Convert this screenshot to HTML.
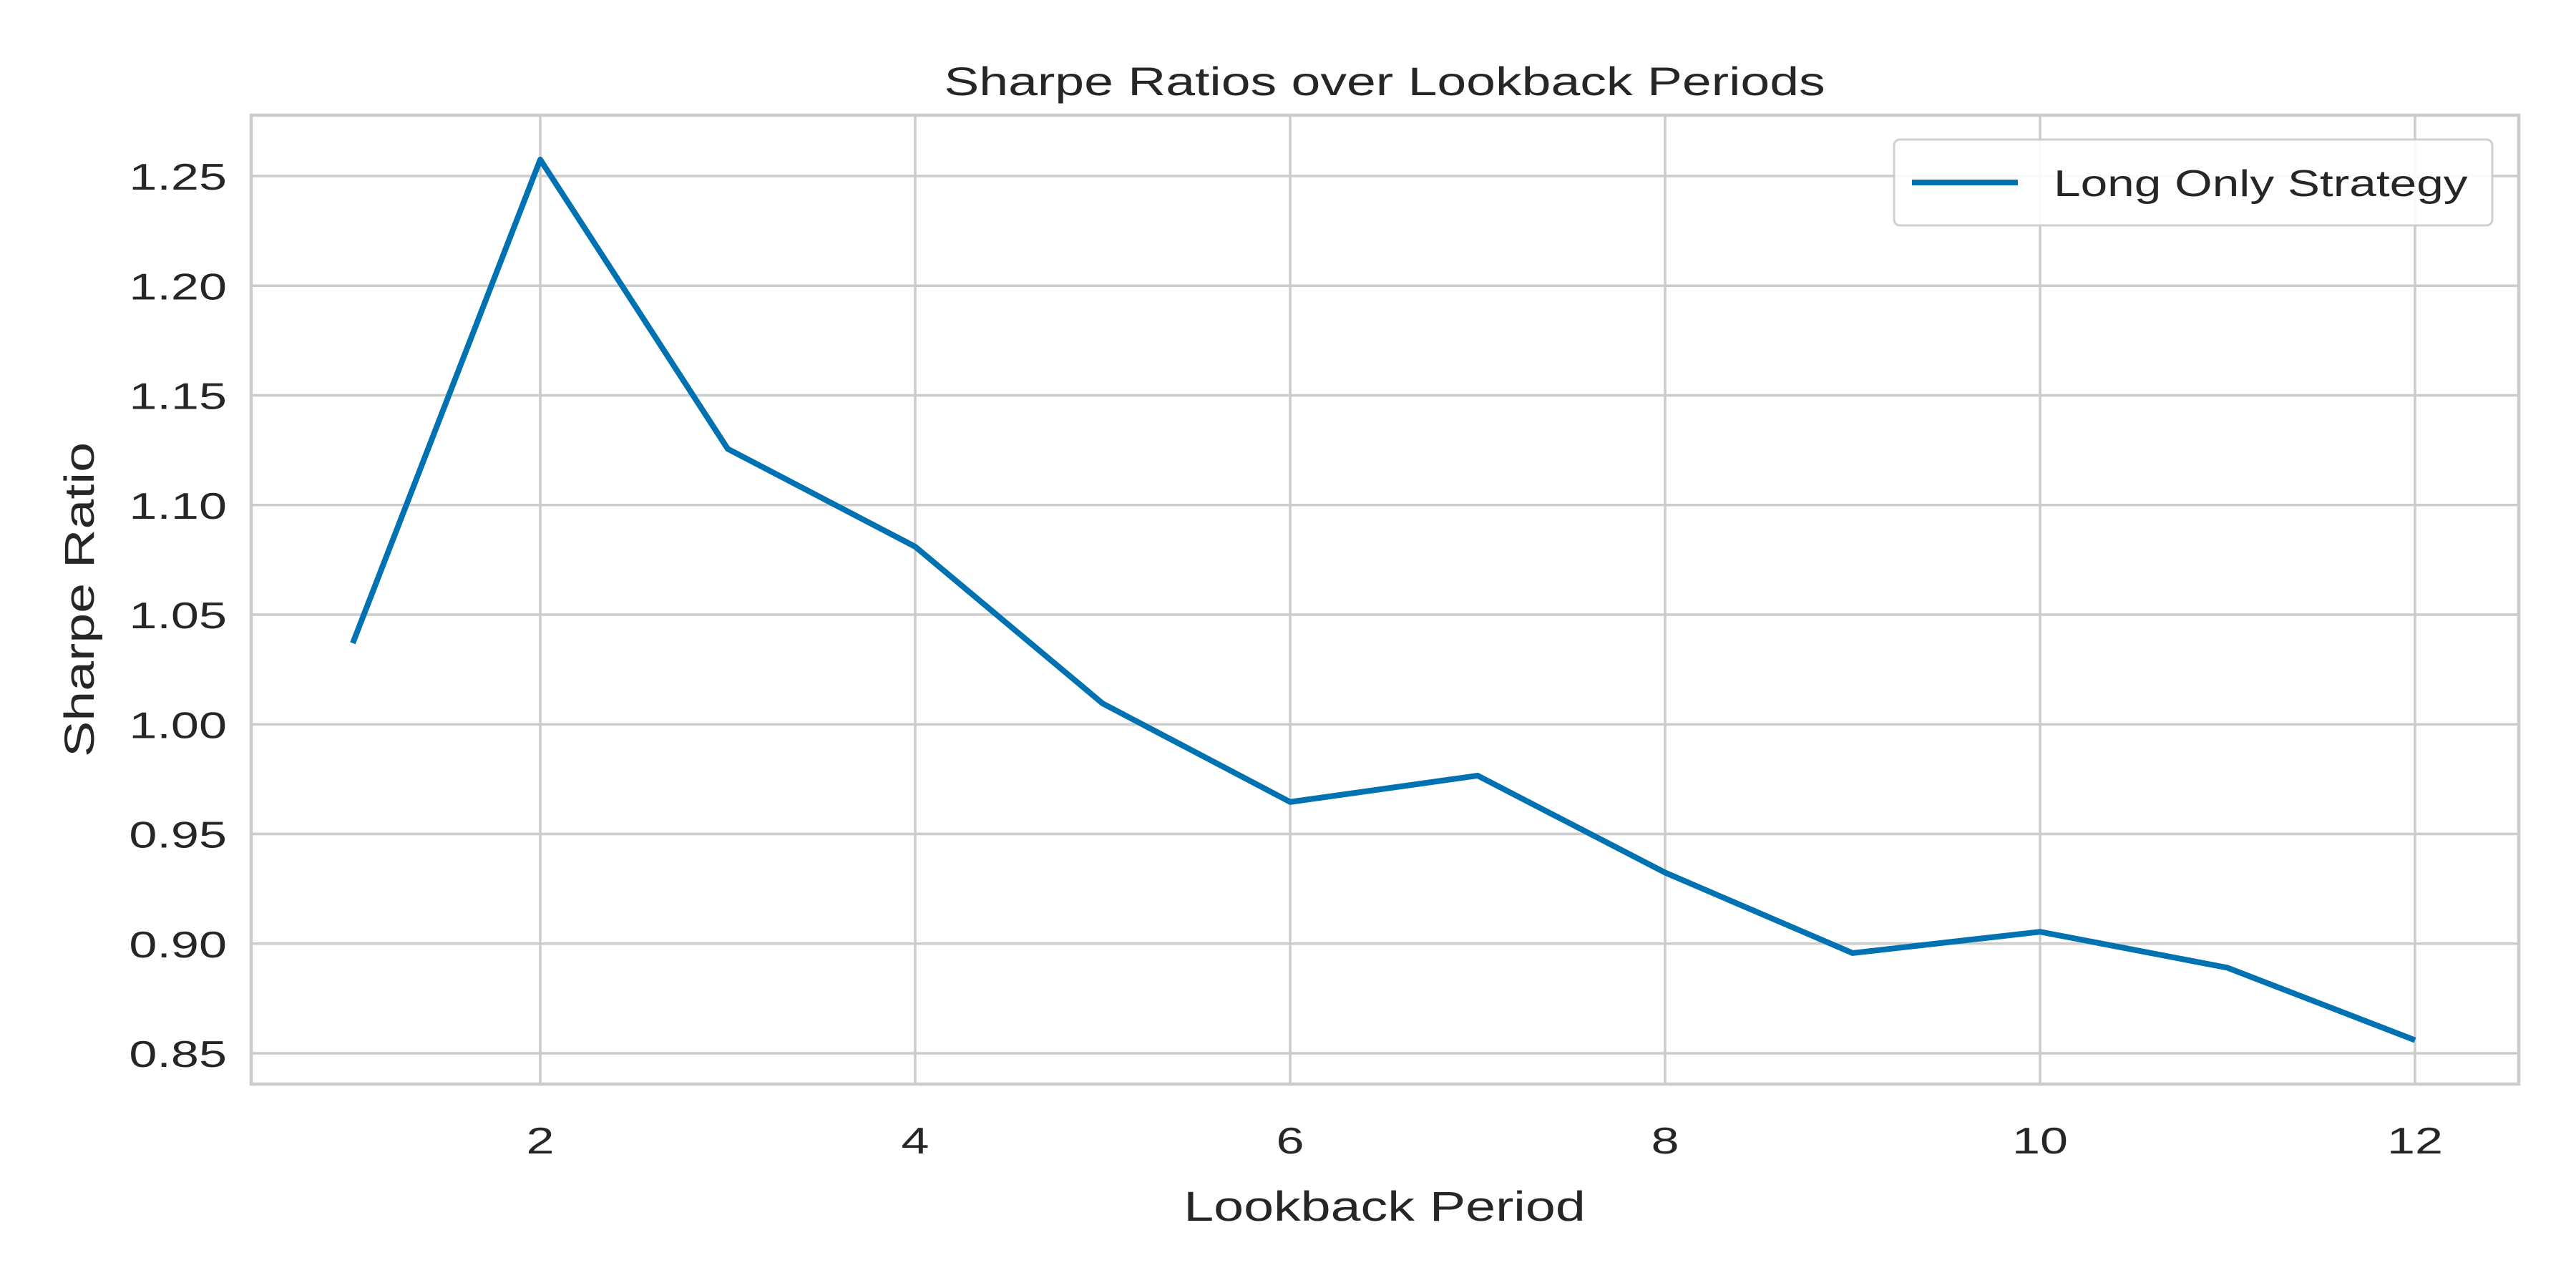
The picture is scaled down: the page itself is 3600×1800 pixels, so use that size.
<!DOCTYPE html>
<html><head><meta charset="utf-8"><style>
html,body{margin:0;padding:0;background:#fff;}
svg{display:block;font-family:"Liberation Sans",sans-serif;}
</style></head><body>
<svg id="chart" width="3600" height="1800" viewBox="0 0 3600 1800" xmlns="http://www.w3.org/2000/svg">
<rect width="3600" height="1800" fill="#fff"/>
<g id="grid"></g>
<g id="ticks"></g>
<rect x="351" y="161" width="3169" height="1354" fill="none" stroke="#cccccc" stroke-width="4.5"/>
<g id="series"></g>
<g transform="translate(1935,133) scale(1.31,1)"><text x="0" y="0" font-size="56" text-anchor="middle" fill="#262626">Sharpe Ratios over Lookback Periods</text></g>
<g transform="translate(1935,1706) scale(1.3,1)"><text x="0" y="0" font-size="58" text-anchor="middle" fill="#262626">Lookback Period</text></g>
<g transform="translate(131,838) rotate(-90) scale(1.3,1)"><text x="0" y="0" font-size="58" text-anchor="middle" fill="#262626">Sharpe Ratio</text></g>
<g>
<rect x="2647" y="195" width="836" height="120" rx="8" fill="#fff" stroke="#cccccc" stroke-width="3" opacity="0.9"/>
<line x1="2672" y1="255" x2="2820" y2="255" stroke="#0072b2" stroke-width="8"/>
<g transform="translate(2870,274) scale(1.3,1)"><text x="0" y="0" font-size="52" fill="#262626">Long Only Strategy</text></g>
</g>
</svg>
<script>
const lookbacks=[1,2,3,4,5,6,7,8,9,10,11,12];
const sharpeValues=[1.037,1.2575,1.1256,1.081,1.0095,0.9646,0.9766,0.9324,0.8957,0.9054,0.889,0.856];
const xTicks=[2,4,6,8,10,12];
const yTicks=[0.85,0.90,0.95,1.00,1.05,1.10,1.15,1.20,1.25];
const NS="http://www.w3.org/2000/svg";
function xs(v){return 755+(v-2)*262;}
function ys(v){return 246+(1.25-v)/0.4*1226;}
const grid=document.getElementById('grid'),ticks=document.getElementById('ticks'),series=document.getElementById('series');
function mk(tag,attrs,parent){const e=document.createElementNS(NS,tag);for(const k in attrs)e.setAttribute(k,attrs[k]);parent.appendChild(e);return e;}
xTicks.forEach(t=>{
 const l=mk('line',{x1:xs(t),x2:xs(t),y1:161,y2:1515,stroke:'#cccccc','stroke-width':3.5},grid);
 
 
 const g=mk('g',{transform:'translate('+xs(t)+',1612) scale(1.35,1)'},ticks);
 const tx=mk('text',{x:0,y:0,'font-size':52,'text-anchor':'middle',fill:'#262626'},g);
 tx.textContent=t;
 
 
});
yTicks.forEach(t=>{
 const l=mk('line',{x1:351,x2:3520,y1:ys(t),y2:ys(t),stroke:'#cccccc','stroke-width':3.5},grid);
 
 
 const g=mk('g',{transform:'translate(317,'+(ys(t)+19)+') scale(1.35,1)'},ticks);
 const tx=mk('text',{x:0,y:0,'font-size':52,'text-anchor':'end',fill:'#262626'},g);
 tx.textContent=t.toFixed(2);
 
 
});
const pts=lookbacks.map((x,i)=>xs(x)+','+ys(sharpeValues[i])).join(' ');
const pl=mk('polyline',{points:pts,fill:'none',stroke:'#0072b2','stroke-width':8,'stroke-linejoin':'round'},series);


</script>
</body></html>
